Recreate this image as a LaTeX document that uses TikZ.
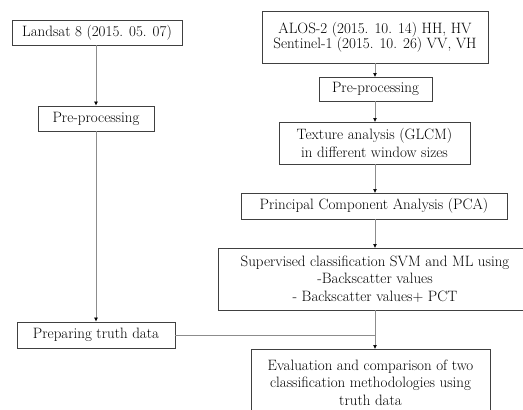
\documentclass[tikz,border=0pt]{standalone}
\usetikzlibrary{arrows.meta}
\begin{document}
\begin{tikzpicture}[x=1pt,y=-1pt,
  box/.style={draw=black!75,line width=0.8pt,align=center,inner sep=0pt,
    font=\fontsize{15}{17.4}\selectfont},
  conn/.style={draw=black!45,line width=0.7pt},
  arr/.style={conn,-{Latex[length=4pt,width=4pt,color=black]}}]
\clip (0,0) rectangle (523,410);
\fill[white] (0,0) rectangle (523,410);
\node[box,minimum width=170pt,minimum height=25pt] (landsat) at (97,32.5) {Landsat 8 (2015. 05. 07)};
\node[box,minimum width=116pt,minimum height=25pt] (pre1) at (96,118.5) {Pre-processing};
\node[box,minimum width=226pt,minimum height=52pt,font=\fontsize{15}{15}\selectfont] (alos) at (375,37) {ALOS-2 (2015. 10. 14) HH, HV\\Sentinel-1 (2015. 10. 26) VV, VH};
\node[box,minimum width=113pt,minimum height=24pt] (pre2) at (375.5,89) {Pre-processing};
\node[box,minimum width=191pt,minimum height=42pt] (tex) at (374.5,143) {Texture analysis (GLCM)\\in different window sizes};
\node[box,minimum width=266pt,minimum height=26pt] (pca) at (374,206) {Principal Component Analysis (PCA)};
\node[box,minimum width=314pt,minimum height=62pt] (sup) at (375,279) {Supervised classification SVM and ML using\\-Backscatter values\\- Backscatter values+ PCT};
\node[box,minimum width=158pt,minimum height=26pt] (truth) at (96,335) {Preparing truth data};
\node[box,minimum width=239pt,minimum height=66pt,anchor=north] (eval) at (370.5,349) {Evaluation and comparison of two\\classification methodologies using\\truth data};
\draw[arr] (landsat.south -| pre1.north) -- (pre1.north);
\draw[arr] (pre1.south) -- (truth.north);
\draw[arr] (alos.south -| 375,0) -- (375,77);
\draw[arr] (pre2.south -| 375,0) -- (375,122);
\draw[arr] (tex.south -| 375,0) -- (375,193);
\draw[arr] (pca.south -| 375,0) -- (375,248);
\draw[arr] (sup.south) -- (sup.south |- eval.north);
\draw[conn] (truth.east) -- (truth.east -| sup.south);
\end{tikzpicture}
\end{document}
